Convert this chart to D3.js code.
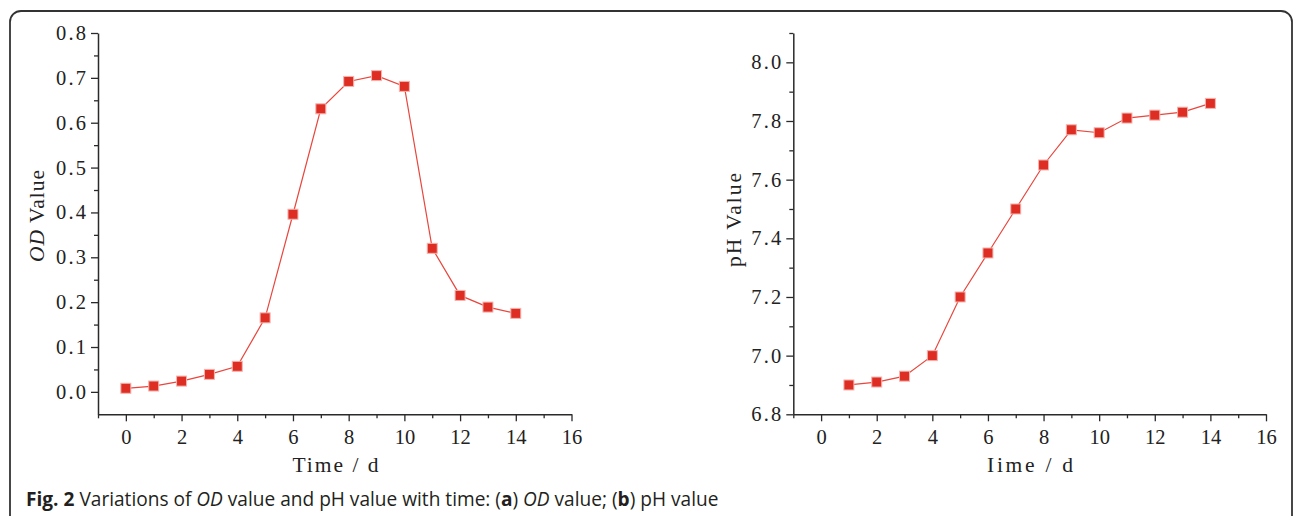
<!DOCTYPE html>
<html><head><meta charset="utf-8">
<script src="https://cdn.jsdelivr.net/npm/d3@7"></script>
<style>
html,body{margin:0;padding:0;background:#fff;}
svg{display:block;}
</style></head>
<body>
<svg id="chart" width="1293" height="516"></svg>
<script>
// ---- data ----
const odDays = [0,1,2,3,4,5,6,7,8,9,10,11,12,13,14];
const odValues = [0.008,0.013,0.024,0.039,0.057,0.165,0.396,0.631,0.692,0.705,0.681,0.320,0.215,0.189,0.175];
const phDays = [1,2,3,4,5,6,7,8,9,10,11,12,13,14];
const phValues = [6.90,6.91,6.93,7.00,7.20,7.35,7.50,7.65,7.77,7.76,7.81,7.82,7.83,7.86];
const xTicks = [0,2,4,6,8,10,12,14,16];
const odTicks = [0.0,0.1,0.2,0.3,0.4,0.5,0.6,0.7,0.8];
const phTicks = [6.8,7.0,7.2,7.4,7.6,7.8,8.0];
const captionParts = [
  {t:"Fig. 2", w:"bold"}, {t:" Variations of "}, {t:"OD", s:"italic"},
  {t:" value and pH value with time: ("}, {t:"a", w:"bold"}, {t:") "},
  {t:"OD", s:"italic"}, {t:" value; ("}, {t:"b", w:"bold"}, {t:") pH value"}
];

const svg = d3.select("#chart");
const FONT = "'Liberation Serif', 'DejaVu Serif', serif";
const AX = "#2a2a2a";
const LINE = "#e8463d";
const MARK = "#de2e24";

// frame
svg.append("rect").attr("x",10).attr("y",11).attr("width",1282).attr("height",540)
  .attr("rx",11).attr("ry",11).attr("fill","none").attr("stroke","#333").attr("stroke-width",1.8);

function panel(opts){
  const g = svg.append("g");
  const x = d3.scaleLinear().domain([-1,16]).range([opts.left, opts.right]);
  const y = d3.scaleLinear().domain(opts.yDomain).range([opts.bottom, opts.top]);

  // minor ticks x
  const xMinor = d3.range(-1,17,1).filter(v=>!xTicks.includes(v));
  g.append("g").attr("transform",`translate(0,${opts.bottom})`)
    .call(d3.axisBottom(x).tickValues(xMinor).tickSize(4).tickFormat(""))
    .call(s=>s.select(".domain").remove());
  const xa = g.append("g").attr("transform",`translate(0,${opts.bottom})`)
    .call(d3.axisBottom(x).tickValues(xTicks).tickSize(7).tickSizeOuter(0).tickPadding(8).tickFormat(d3.format("d")));
  xa.selectAll("text").attr("font-family",FONT).attr("font-size",20.5).attr("fill","#222");

  // minor ticks y
  g.append("g").attr("transform",`translate(${opts.left},0)`)
    .call(d3.axisLeft(y).tickValues(opts.yMinor).tickSize(4).tickFormat(""))
    .call(s=>s.select(".domain").remove());
  const ya = g.append("g").attr("transform",`translate(${opts.left},0)`)
    .call(d3.axisLeft(y).tickValues(opts.yTicks).tickSize(7).tickSizeOuter(0).tickPadding(5).tickFormat(d3.format(".1f")));
  ya.selectAll("text").attr("font-family",FONT).attr("font-size",20.5).attr("fill","#222")
    .attr("textLength",30).attr("lengthAdjust","spacing");

  g.selectAll(".domain").attr("stroke",AX).attr("stroke-width",1.5);
  g.selectAll(".tick line").attr("stroke",AX).attr("stroke-width",1.3);

  // x label
  g.append("text").attr("x",opts.xLabelX).attr("y",472).attr("text-anchor","middle")
    .attr("font-family",FONT).attr("font-size",21.5).attr("fill","#222")
    .attr("textLength",86).attr("lengthAdjust","spacing")
    .text(opts.xLabel);

  // y label
  const yl = g.append("text").attr("transform",`translate(${opts.yLabelX},${opts.yLabelY}) rotate(-90)`)
    .attr("text-anchor","middle").attr("font-family",FONT).attr("font-size",21.5).attr("fill","#222")
    .attr("textLength",opts.yLabelLen).attr("lengthAdjust","spacing");
  opts.yLabel.forEach(p=>yl.append("tspan").attr("font-style",p.s||"normal").text(p.t));

  // line
  const pts = opts.xs.map((d,i)=>[d, opts.ys[i]]);
  g.append("path").datum(pts)
    .attr("d", d3.line().x(d=>x(d[0])).y(d=>y(d[1])))
    .attr("fill","none").attr("stroke",LINE).attr("stroke-width",1.2);
  const ms = 10;
  g.selectAll("rect.m").data(pts).join("rect").attr("class","m")
    .attr("x",d=>x(d[0])-ms/2).attr("y",d=>y(d[1])-ms/2)
    .attr("width",ms).attr("height",ms)
    .attr("fill",MARK).attr("stroke","#f6b3ad").attr("stroke-width",1);
}

panel({
  left:98, right:571.5, top:33, bottom:414.3,
  yDomain:[-0.05,0.8], yTicks:odTicks, yMinor:[0.05,0.15,0.25,0.35,0.45,0.55,0.65,0.75],
  xs:odDays, ys:odValues,
  xLabel:"Time / d", xLabelX:335.5,
  yLabel:[{t:"OD",s:"italic"},{t:" Value"}], yLabelX:44, yLabelY:216, yLabelLen:92
});
panel({
  left:793.3, right:1266, top:33, bottom:414.3,
  yDomain:[6.8,8.1], yTicks:phTicks, yMinor:[6.9,7.1,7.3,7.5,7.7,7.9,8.1],
  xs:phDays, ys:phValues,
  xLabel:"Iime / d", xLabelX:1030,
  yLabel:[{t:"pH Value"}], yLabelX:741, yLabelY:220, yLabelLen:94
});

// caption
const cap = svg.append("text").attr("x",26).attr("y",506)
  .attr("font-family","'Open Sans', 'Noto Sans', sans-serif").attr("font-size",19.1).attr("fill","#231f20");
captionParts.forEach(p=>cap.append("tspan").attr("font-weight",p.w||"normal").attr("font-style",p.s||"normal").text(p.t));
</script>
</body></html>
